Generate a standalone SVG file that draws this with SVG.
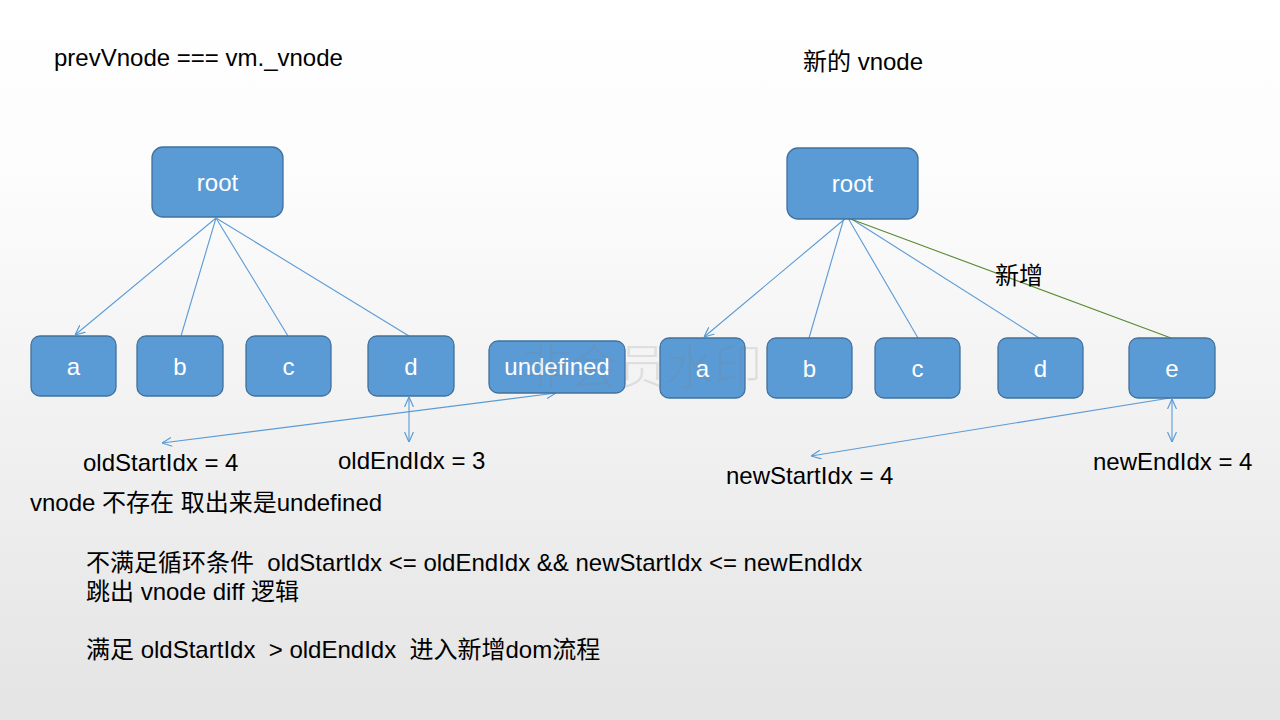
<svg xmlns="http://www.w3.org/2000/svg" width="1280" height="720" viewBox="0 0 1280 720">
<defs>
<linearGradient id="bg" x1="0" y1="0" x2="0" y2="1">
<stop offset="0" stop-color="#ffffff"/>
<stop offset="0.25" stop-color="#fcfcfc"/>
<stop offset="1" stop-color="#e4e4e4"/>
</linearGradient>
<marker id="arr" viewBox="0 0 10 10" refX="10" refY="5" markerWidth="10" markerHeight="10" markerUnits="userSpaceOnUse" orient="auto-start-reverse">
<path d="M0,0.5 L10,5 L0,9.5" fill="none" stroke="#5b9bd5" stroke-width="1.2"/>
</marker>
<style>
.box{fill:#5b9bd5;stroke:#41719c;stroke-width:1.3}
.lbl{fill:#ffffff;font-family:"Liberation Sans",Arial,sans-serif;font-size:24px;text-anchor:middle}
.txt{fill:#000000;font-family:"Liberation Sans","Noto Sans CJK SC",sans-serif;font-size:24px}
.ln{stroke:#5b9bd5;stroke-width:1.1;fill:none}
.gr{stroke:#5a8a32;stroke-width:1.1;fill:none}
</style>
</defs>
<rect width="1280" height="720" fill="url(#bg)"/>

<g id="connectors">
<line class="ln" x1="216" y1="218" x2="75" y2="335" marker-end="url(#arr)"/>
<line class="ln" x1="216" y1="218" x2="181" y2="336"/>
<line class="ln" x1="216" y1="218" x2="288" y2="336"/>
<line class="ln" x1="216" y1="218" x2="409" y2="336"/>
<line class="ln" x1="556" y1="393" x2="162" y2="443" marker-start="url(#arr)" marker-end="url(#arr)"/>
<line class="ln" x1="409" y1="397" x2="409" y2="442" marker-start="url(#arr)" marker-end="url(#arr)"/>

<line class="ln" x1="846" y1="218" x2="704" y2="337" marker-end="url(#arr)"/>
<line class="ln" x1="844" y1="218" x2="809" y2="338"/>
<line class="ln" x1="848" y1="218" x2="918" y2="338"/>
<line class="ln" x1="850" y1="218" x2="1039" y2="338"/>
<line class="gr" x1="848" y1="218" x2="1171" y2="338"/>
<line class="ln" x1="1170" y1="398" x2="811" y2="456" marker-end="url(#arr)"/>
<line class="ln" x1="1172" y1="399" x2="1172" y2="442" marker-start="url(#arr)" marker-end="url(#arr)"/>
</g>

<g id="old-root"><rect class="box" x="152" y="147" width="131" height="70" rx="11"/><text class="lbl" x="217.5" y="191">root</text></g>
<g id="old-a"><rect class="box" x="31" y="336" width="85" height="60" rx="9"/><text class="lbl" x="73.5" y="375">a</text></g>
<g id="old-b"><rect class="box" x="137" y="336" width="86" height="60" rx="9"/><text class="lbl" x="180" y="375">b</text></g>
<g id="old-c"><rect class="box" x="246" y="336" width="85" height="60" rx="9"/><text class="lbl" x="288.5" y="375">c</text></g>
<g id="old-d"><rect class="box" x="368" y="336" width="86" height="60" rx="9"/><text class="lbl" x="411" y="375">d</text></g>
<g id="old-undefined"><rect class="box" x="489" y="341" width="136" height="52" rx="9"/><text class="lbl" x="557" y="375">undefined</text></g>

<g id="new-root"><rect class="box" x="787" y="148" width="131" height="71" rx="11"/><text class="lbl" x="852.5" y="192">root</text></g>
<g id="new-a"><rect class="box" x="660" y="338" width="85" height="60" rx="9"/><text class="lbl" x="702.5" y="377">a</text></g>
<g id="new-b"><rect class="box" x="767" y="338" width="85" height="60" rx="9"/><text class="lbl" x="809.5" y="377">b</text></g>
<g id="new-c"><rect class="box" x="875" y="338" width="85" height="60" rx="9"/><text class="lbl" x="917.5" y="377">c</text></g>
<g id="new-d"><rect class="box" x="998" y="338" width="85" height="60" rx="9"/><text class="lbl" x="1040.5" y="377">d</text></g>
<g id="new-e"><rect class="box" x="1129" y="338" width="86" height="60" rx="9"/><text class="lbl" x="1172" y="377">e</text></g>

<g id="labels">
<text class="txt" x="54" y="66">prevVnode === vm._vnode</text>
<text class="txt" x="803" y="70">新的 vnode</text>
<text class="txt" x="995" y="284">新增</text>
<text class="txt" x="83" y="471">oldStartIdx = 4</text>
<text class="txt" x="338" y="469">oldEndIdx = 3</text>
<text class="txt" x="726" y="484">newStartIdx = 4</text>
<text class="txt" x="1093" y="470">newEndIdx = 4</text>
<text class="txt" x="30" y="511">vnode 不存在 取出来是undefined</text>
<text class="txt" x="86" y="571" xml:space="preserve">不满足循环条件  oldStartIdx &lt;= oldEndIdx &amp;&amp; newStartIdx &lt;= newEndIdx</text>
<text class="txt" x="86" y="600">跳出 vnode diff 逻辑</text>
<text class="txt" x="86" y="658" xml:space="preserve">满足 oldStartIdx  &gt; oldEndIdx  进入新增dom流程</text>
</g>

<text x="642" y="384" text-anchor="middle" font-family="'Noto Sans CJK SC',sans-serif" font-size="48" font-weight="300" fill="#808080" fill-opacity="0.2">非会员水印</text>
</svg>
